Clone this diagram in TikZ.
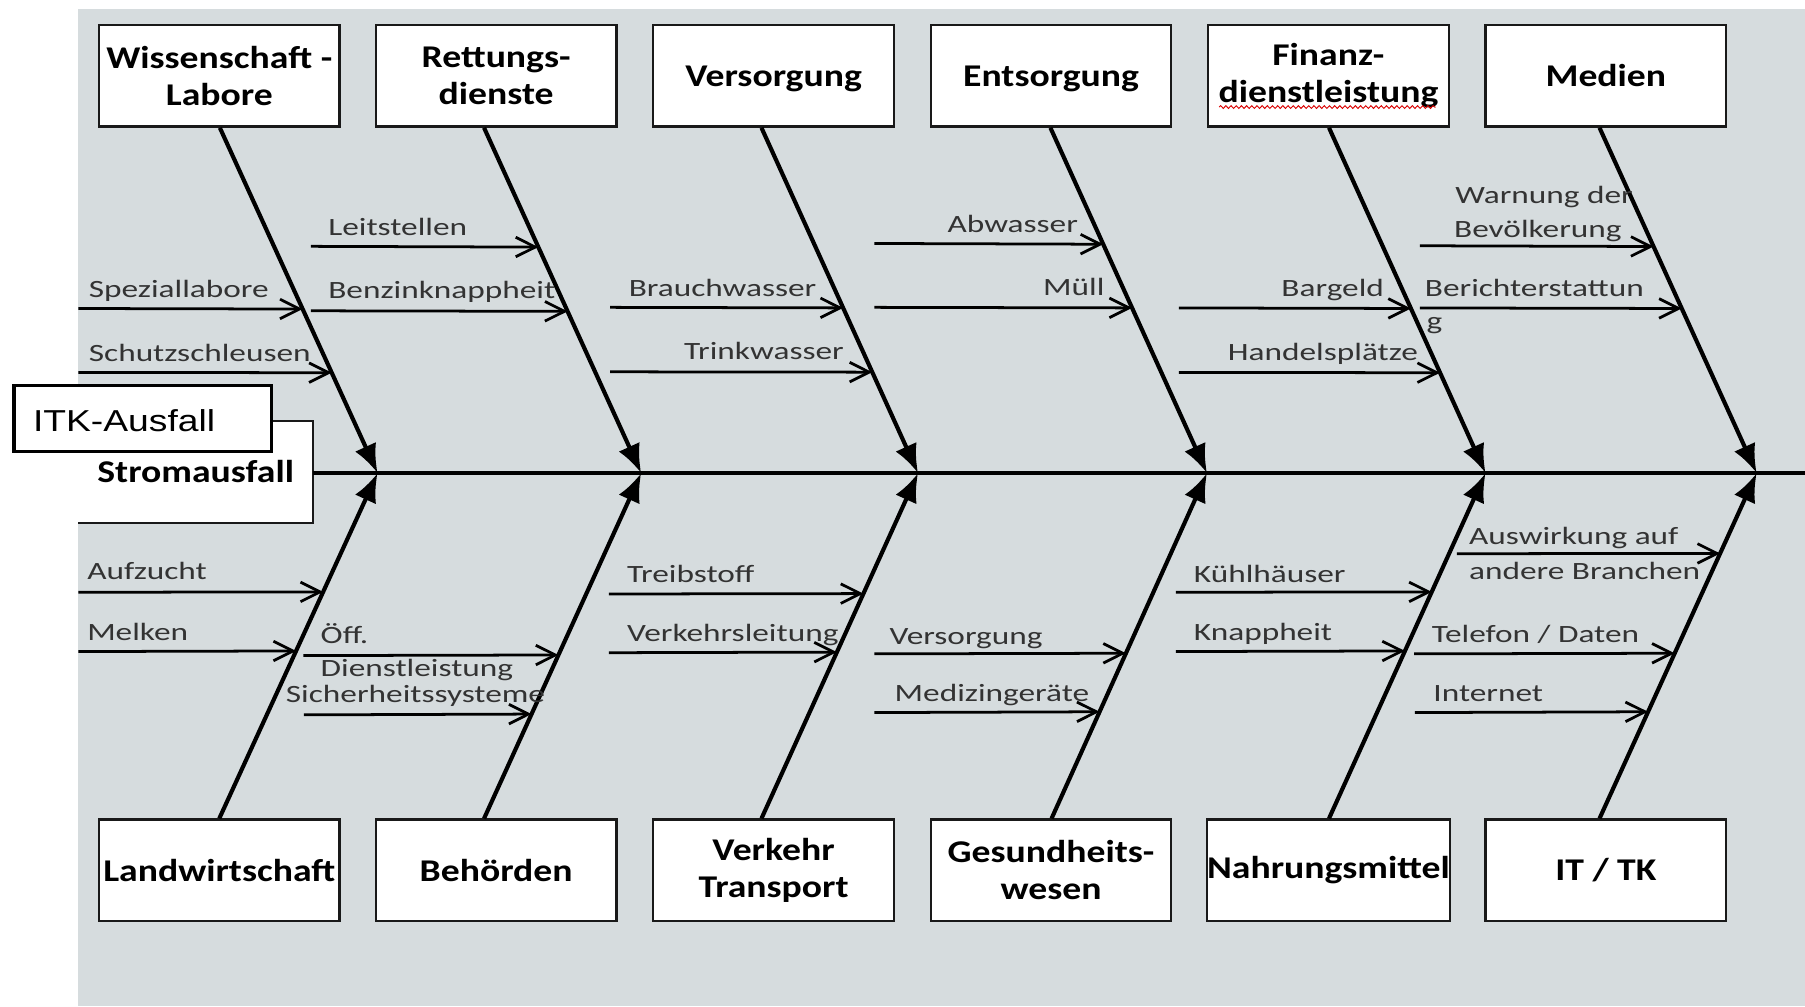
\documentclass[tikz,border=0pt]{standalone}
\usepackage{fontspec}
\setmainfont{Carlito}
\newfontfamily\arialfam{Liberation Sans}
\usetikzlibrary{arrows.meta,calc,decorations.pathmorphing}
\definecolor{bgc}{RGB}{214,220,222}
\newcommand\bxs[1]{\scalebox{1.19}[1]{#1}}
\newcommand\lxs[1]{\scalebox{1.34}[1]{#1}}
\newcommand\subtop[4]{%
  \coordinate (#1s) at (#2,#3);
  \coordinate (#1e) at ($(ts#4)!{(#3-110)/301}!(j#4)$);
  \draw[subarr] (#1s) -- (#1e);}
\newcommand\subbot[4]{%
  \coordinate (#1s) at (#2,#3);
  \coordinate (#1e) at ($(bs#4)!{(712-#3)/301}!(j#4)$);
  \draw[subarr] (#1s) -- (#1e);}
\begin{document}
\begin{tikzpicture}[x=1pt,y=-1pt,
  catbox/.style={draw=black!90,line width=2pt,fill=white,minimum width=209pt,minimum height=88pt,inner sep=0pt,align=center,font=\fontsize{27.5}{32}\selectfont\bfseries},
  bone/.style={line width=3.6pt,-{Latex[length=25pt,width=20pt]}},
  spine/.style={line width=3pt},
  subarr/.style={line width=2.4pt,-{Straight Barb[length=17pt,width=17pt,line width=2.4pt]}},
  lbl/.style={anchor=base west,inner sep=0pt,font=\fontsize{21.6}{29}\selectfont,text=black!80},
]
\useasboundingbox (0,0) rectangle (1568,874);
\fill[bgc] (68,8) rectangle (1568,874);

% category boxes
\node[catbox] (t1) at (190.5,66) {\bxs{Wissenschaft -}\\\bxs{Labore}};
\node[catbox] (t2) at (431,66) {\bxs{Rettungs-}\\\bxs{dienste}};
\node[catbox,text depth=0pt] (t3) at (672,66) {\bxs{Versorgung}};
\node[catbox,text depth=0pt] (t4) at (913,66) {\bxs{Entsorgung}};
\node[catbox] (t5) at (1154,66) {\bxs{Finanz-}\\\bxs{dienstleistung}};
\node[catbox] (t6) at (1395,66) {\bxs{Medien}};
\node[catbox] (b1) at (190.5,756) {\bxs{Landwirtschaft}};
\node[catbox] (b2) at (431,756) {\bxs{Behörden}};
\node[catbox] (b3) at (672,756) {\bxs{Verkehr}\\\bxs{Transport}};
\node[catbox] (b4) at (913,756) {\bxs{Gesundheits-}\\\bxs{wesen}};
\node[catbox] (b5) at (1154,756) {\bxs{Nahrungsmittel}};
\node[catbox] (b6) at (1395,756) {\bxs{IT / TK}};

% spell-check underline
\draw[red!85!black,line width=0.8pt,decorate,decoration={snake,amplitude=1.2pt,segment length=4.5pt}]
  ([xshift=-95pt,yshift=-27pt]t5.center) -- ([xshift=93pt,yshift=-27pt]t5.center);

% junctions on spine
\coordinate (j1) at (328,411);
\coordinate (j2) at (557,411);
\coordinate (j3) at (797.5,411);
\coordinate (j4) at (1048.5,411);
\coordinate (j5) at (1290.5,411);
\coordinate (j6) at (1526,411);
\coordinate (spE) at (1568,411);

% bone start points
\coordinate (ts1) at ([xshift=0.5pt]t1.south);
\coordinate (ts2) at ([xshift=-10.5pt]t2.south);
\coordinate (ts3) at ([xshift=-10.5pt]t3.south);
\coordinate (ts4) at ([xshift=-0.5pt]t4.south);
\coordinate (ts5) at ([xshift=0.5pt]t5.south);
\coordinate (ts6) at ([xshift=-5.5pt]t6.south);
\coordinate (bs1) at ([xshift=0pt]b1.north);
\coordinate (bs2) at ([xshift=-10.5pt]b2.north);
\coordinate (bs3) at ([xshift=-10.5pt]b3.north);
\coordinate (bs4) at ([xshift=0.5pt]b4.north);
\coordinate (bs5) at ([xshift=0.5pt]b5.north);
\coordinate (bs6) at ([xshift=-5.5pt]b6.north);

% Stromausfall box
\node[fill=white,minimum width=204pt,minimum height=88pt,inner sep=0pt,
  font=\fontsize{27.5}{32}\selectfont\bfseries] (strom) at (170,410) {\bxs{Stromausfall}};
\draw[line width=2pt,black!90] (strom.north west) -- (strom.north east) -- (strom.south east) -- (strom.south west);

% spine
\draw[spine] (strom.east |- j1) -- (spE);

% bones
\foreach \i in {1,...,6}{
  \draw[bone] (ts\i) -- (j\i);
  \draw[bone] (bs\i) -- (j\i);
}

% sub-arrows, top
\subtop{sp}{68}{268}{1}
\subtop{sc}{68}{323.5}{1}
\subtop{le}{270}{214}{2}
\subtop{be}{270}{270}{2}
\subtop{br}{530}{267}{3}
\subtop{tr}{530}{323}{3}
\subtop{ab}{759.5}{211.5}{4}
\subtop{mu}{759.5}{267}{4}
\subtop{ba}{1024}{267.5}{5}
\subtop{ha}{1024}{323.5}{5}
\subtop{wa}{1233.5}{213.5}{6}
\subtop{bi}{1233.5}{267.5}{6}
% sub-arrows, bottom
\subbot{au}{68}{514.5}{1}
\subbot{me}{68}{566}{1}
\subbot{of}{263.5}{569.5}{2}
\subbot{si}{264}{621}{2}
\subbot{tb}{529}{516}{3}
\subbot{vl}{529}{567}{3}
\subbot{vs}{759.5}{568}{4}
\subbot{mg}{759.5}{619}{4}
\subbot{kh}{1021.5}{514.5}{5}
\subbot{kn}{1021.5}{566}{5}
\subbot{aw}{1265.5}{481}{6}
\subbot{te}{1228.5}{568}{6}
\subbot{in}{1229}{619}{6}

% labels, top
\node[lbl] (lsp) at (77,258.5) {\lxs{Speziallabore}};
\node[lbl] (lsc) at (77,314) {\lxs{Schutzschleusen}};
\node[lbl] (lle) at (285,205) {\lxs{Leitstellen}};
\node[lbl] (lbe) at (285,259.5) {\lxs{Benzinknappheit}};
\node[lbl] (lbr) at (546,257.7) {\lxs{Brauchwasser}};
\node[lbl] (ltr) at (594,312.7) {\lxs{Trinkwasser}};
\node[lbl] (lab) at (823,202) {\lxs{Abwasser}};
\node[lbl] (lmu) at (906,257) {\lxs{Müll}};
\node[lbl] (lba) at (1113,258) {\lxs{Bargeld}};
\node[lbl] (lha) at (1066.5,313) {\lxs{Handelsplätze}};
\node[lbl] (lwa) at (1264,176.6) {\lxs{Warnung der}};
\node[lbl] (lwb) at (1263,206) {\lxs{Bevölkerung}};
\node[lbl] (lbi) at (1237.6,258) {\lxs{Berichterstattun}};
\node[lbl] (lbj) at (1239,286.5) {\lxs{g}};
% labels, bottom
\node[lbl] (lau) at (75.6,503.2) {\lxs{Aufzucht}};
\node[lbl] (lme) at (75.6,556) {\lxs{Melken}};
\node[lbl] (lof) at (278.4,558.8) {\lxs{Öff.}};
\node[lbl] (lod) at (278.4,587.8) {\lxs{Dienstleistung}};
\node[lbl] (lsi) at (248.2,610.4) {\lxs{Sicherheitssysteme}};
\node[lbl] (ltb) at (544.5,506) {\lxs{Treibstoff}};
\node[lbl] (lvl) at (544.5,557.4) {\lxs{Verkehrsleitung}};
\node[lbl] (lvs) at (772.5,559.7) {\lxs{Versorgung}};
\node[lbl] (lmg) at (777,609.5) {\lxs{Medizingeräte}};
\node[lbl] (lkh) at (1037,506) {\lxs{Kühlhäuser}};
\node[lbl] (lkn) at (1037,556) {\lxs{Knappheit}};
\node[lbl] (law) at (1276,473.4) {\lxs{Auswirkung auf}};
\node[lbl] (lax) at (1276,503.2) {\lxs{andere Branchen}};
\node[lbl] (lte) at (1243.6,558.4) {\lxs{Telefon / Daten}};
\node[lbl] (lin) at (1245,609.5) {\lxs{Internet}};

% ITK-Ausfall box
\node[draw,line width=3pt,fill=white,minimum width=224pt,minimum height=57pt,inner sep=0pt] (itk) at (124,363.5) {};
\node[anchor=west,inner sep=0pt,font=\arialfam\fontsize{26.3}{30}\selectfont] (itkt) at ([xshift=18pt,yshift=-2pt]itk.west) {\scalebox{1.23}[1]{ITK-Ausfall}};
\end{tikzpicture}
\end{document}
